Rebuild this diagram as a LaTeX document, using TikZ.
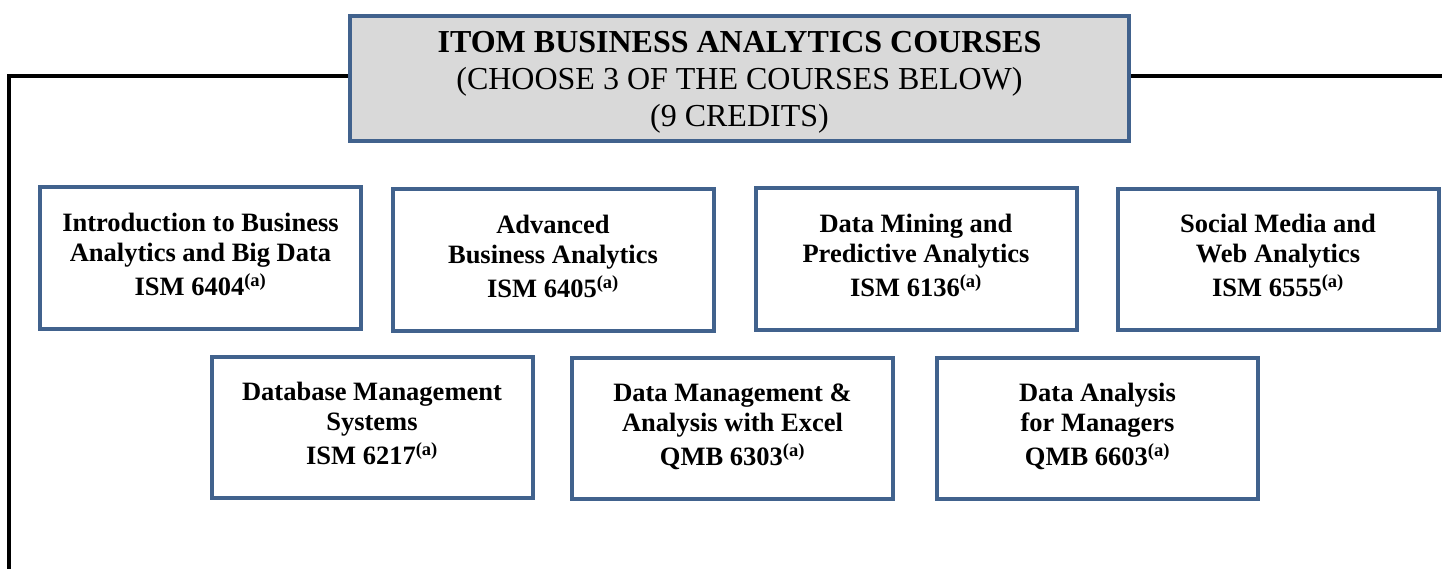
\documentclass[tikz,border=0pt]{standalone}
\usepackage{fontspec}
\setmainfont{Liberation Serif}
\definecolor{boxblue}{RGB}{65,98,141}
\definecolor{titlegray}{RGB}{217,217,217}

\begin{document}
\begin{tikzpicture}[x=1pt,y=-1pt,
    course/.style={draw=boxblue,line width=4pt,rectangle,minimum width=321pt,minimum height=141pt,
      align=center,inner sep=0pt,text depth=8pt,font=\fontsize{26.5}{30}\selectfont\bfseries},
    header/.style={draw=boxblue,fill=titlegray,line width=4pt,rectangle,minimum width=779pt,
      minimum height=125pt,align=center,inner sep=0pt,text depth=0pt,font=\fontsize{32}{37}\selectfont}]
            \useasboundingbox (0,0) rectangle (1442,569);
            \node[header] (title) at (739.5,78.5) {\textbf{ITOM BUSINESS ANALYTICS COURSES}\\(CHOOSE 3 OF THE COURSES BELOW)\\(9 CREDITS)};
            \coordinate (lcorner) at (9,76);
            \coordinate (lend) at (9,572);
            \coordinate (rend) at (1446,76);
            \draw[line width=4pt] (title.west |- lcorner) -- (lcorner) -- (lend);
            \draw[line width=4pt] (title.east |- rend) -- (rend);
            \node[course] (intro) at (200.5,258) {Introduction to Business\\Analytics and Big Data\\[4pt]ISM 6404\textsuperscript{(a)}};
            \node[course] (advanced) at (553,260) {Advanced\\Business Analytics\\[4pt]ISM 6405\textsuperscript{(a)}};
            \node[course] (mining) at (916,259) {Data Mining and\\Predictive Analytics\\[4pt]ISM 6136\textsuperscript{(a)}};
            \node[course] (social) at (1278,259.5) {Social Media and\\Web Analytics\\[4pt]ISM 6555\textsuperscript{(a)}};
            \node[course] (database) at (372,427.5) {Database Management\\Systems\\[4pt]ISM 6217\textsuperscript{(a)}};
            \node[course] (excel) at (732.5,428.5) {Data Management \&\\Analysis with Excel\\[4pt]QMB 6303\textsuperscript{(a)}};
            \node[course] (managers) at (1097.5,428.5) {Data Analysis\\for Managers\\[4pt]QMB 6603\textsuperscript{(a)}};
        \end{tikzpicture}
\end{document}
